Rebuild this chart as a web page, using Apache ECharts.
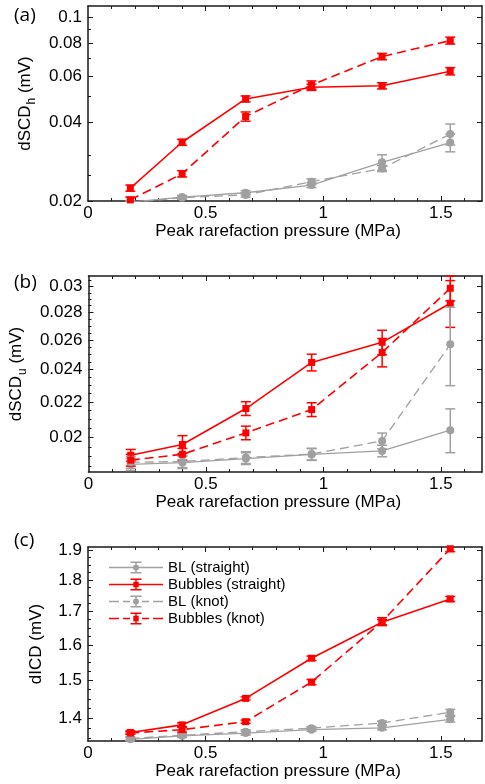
<!DOCTYPE html>
<html><head><meta charset="utf-8">
<script src="https://cdn.jsdelivr.net/npm/echarts@6/dist/echarts.min.js"></script>
<style>html,body{margin:0;padding:0;background:#fff}#c{width:485px;height:784px}</style>
</head><body><div id="c"></div>
<script>
// ---------- data ----------
const pressure = [0.18, 0.40, 0.67, 0.95, 1.25, 1.54];
const seriesNames = ['BL (straight)', 'Bubbles (straight)', 'BL (knot)', 'Bubbles (knot)'];

// panel (a) dSCD_h
const a_blStraight     = [0.0198, 0.0207, 0.0215, 0.0230, 0.0281, 0.0334];
const a_blStraightErr  = [0.0003, 0.0003, 0.0004, 0.0005, 0.0019, 0.0026];
const a_bubStraight    = [0.0224, 0.0335, 0.0490, 0.0543, 0.0550, 0.0625];
const a_bubStraightErr = [0.0006, 0.0009, 0.0013, 0.0015, 0.0015, 0.0020];
const a_blKnot         = [0.0197, 0.0206, 0.0211, 0.0237, 0.0266, 0.0360];
const a_blKnotErr      = [0.0003, 0.0003, 0.0004, 0.0006, 0.0007, 0.0033];
const a_bubKnot        = [0.0202, 0.0254, 0.0420, 0.0554, 0.0711, 0.0818];
const a_bubKnotErr     = [0.0005, 0.0007, 0.0017, 0.0020, 0.0020, 0.0025];

// panel (b) dSCD_u
const b_blStraight     = [0.01861, 0.0187, 0.0189, 0.01911, 0.01929, 0.0204];
const b_blStraightErr  = [0.0003, 0.0003, 0.0003, 0.0003, 0.0003, 0.0012];
const b_bubStraight    = [0.01907, 0.01963, 0.02162, 0.02447, 0.02583, 0.02869];
const b_bubStraightErr = [0.0003, 0.00047, 0.0004, 0.00055, 0.00085, 0.0018];
const b_blKnot         = [0.01871, 0.01875, 0.01895, 0.01913, 0.01982, 0.02569];
const b_blKnotErr      = [0.0003, 0.0003, 0.0003, 0.0003, 0.00042, 0.0027];
const b_bubKnot        = [0.01882, 0.01912, 0.02025, 0.02156, 0.02514, 0.02987];
const b_bubKnotErr     = [0.0003, 0.0003, 0.00037, 0.0004, 0.00096, 0.001];

// panel (c) dICD
const c_blStraight     = [1.348, 1.3567, 1.3635, 1.372, 1.3765, 1.398];
const c_blStraightErr  = [0.004, 0.004, 0.005, 0.004, 0.005, 0.007];
const c_bubStraight    = [1.365, 1.384, 1.452, 1.5618, 1.667, 1.739];
const c_bubStraightErr = [0.004, 0.005, 0.004, 0.006, 0.008, 0.008];
const c_blKnot         = [1.3504, 1.358, 1.3668, 1.3757, 1.3886, 1.4159];
const c_blKnotErr      = [0.004, 0.004, 0.005, 0.004, 0.005, 0.0075];
const c_bubKnot        = [1.3635, 1.372, 1.392, 1.4955, 1.669, 1.905];
const c_bubKnotErr     = [0.003, 0.006, 0.004, 0.007, 0.012, 0.010];

// tick labels / tick values
const xTickLabels = [0, 0.5, 1, 1.5];
const xMajorTicks = [0.5, 1, 1.5];
const xMinorTicks = [0.1, 0.2, 0.3, 0.4, 0.6, 0.7, 0.8, 0.9, 1.1, 1.2, 1.3, 1.4, 1.6];
const aTickLabels = [0.02, 0.04, 0.06, 0.08, 0.1];
const aMinorTicks = [0.025, 0.03, 0.05, 0.07, 0.09];
const bTickLabels = [0.02, 0.022, 0.024, 0.026, 0.028, 0.03];
const bMinorTicks = [0.0185, 0.019, 0.0195, 0.0205, 0.021, 0.0215, 0.0225, 0.023, 0.0235,
                     0.0245, 0.025, 0.0255, 0.0265, 0.027, 0.0275, 0.0285, 0.029, 0.0295, 0.0305];
const cTickLabels = [1.4, 1.5, 1.6, 1.7, 1.8, 1.9];
const cMinorTicks = [1.35, 1.375, 1.425, 1.45, 1.475, 1.525, 1.55, 1.575, 1.625, 1.65, 1.675,
                     1.725, 1.75, 1.775, 1.825, 1.85, 1.875];

// ---------- styling ----------
const FONT = '"Liberation Sans", Arial, sans-serif';
const RED = '#ff0000', GRAY = '#a0a0a0';
const AXC = '#1a1a1a';
const X_MAX = 1.675;
const styles = [
  {color: GRAY, dash: 'solid', symbol: 'circle', size: 8, width: 1.3},
  {color: RED,  dash: 'solid', symbol: 'rect',   size: 7, width: 1.6},
  {color: GRAY, dash: [9, 5],  symbol: 'circle', size: 8, width: 1.3},
  {color: RED,  dash: [9, 5],  symbol: 'rect',   size: 7, width: 1.6}
];

const panels = [
  {top: 6, height: 195, yMin: 0.02, yMax: 0.1108, labels: aTickLabels, minor: aMinorTicks,
   yName: '{m|dSCD}{s|h}{m| (mV)}', tag: '(a)', tagTop: 6,
   vals: [a_blStraight, a_bubStraight, a_blKnot, a_bubKnot],
   errs: [a_blStraightErr, a_bubStraightErr, a_blKnotErr, a_bubKnotErr]},
  {top: 276, height: 196, yMin: 0.01823, yMax: 0.03087, labels: bTickLabels, minor: bMinorTicks,
   yName: '{m|dSCD}{s|u}{m| (mV)}', tag: '(b)', tagTop: 273,
   vals: [b_blStraight, b_bubStraight, b_blKnot, b_bubKnot],
   errs: [b_blStraightErr, b_bubStraightErr, b_blKnotErr, b_bubKnotErr]},
  {top: 547, height: 194, yMin: 1.344, yMax: 1.911, labels: cTickLabels, minor: cMinorTicks,
   yName: '{m|dICD (mV)}', tag: '(c)', tagTop: 531,
   vals: [c_blStraight, c_bubStraight, c_blKnot, c_bubKnot],
   errs: [c_blStraightErr, c_bubStraightErr, c_blKnotErr, c_bubKnotErr]}
];

function fmt(v) { return String(+(+v).toPrecision(6)); }

function errRender(color) {
  return function (params, api) {
    const x = api.value(0), y = api.value(1), e = api.value(2);
    const cs = params.coordSys;
    const top = api.coord([x, y + e]);
    const bot = api.coord([x, y - e]);
    const cx = top[0], hw = 5;
    const st = {stroke: color, lineWidth: 1.5};
    const y0 = Math.max(top[1], cs.y), y1 = Math.min(bot[1], cs.y + cs.height);
    const ch = [];
    if (y1 > y0) ch.push({type: 'line', shape: {x1: cx, y1: y0, x2: cx, y2: y1}, style: st});
    if (top[1] >= cs.y - 0.5) ch.push({type: 'line', shape: {x1: cx - hw, y1: top[1], x2: cx + hw, y2: top[1]}, style: st});
    if (bot[1] <= cs.y + cs.height + 0.5) ch.push({type: 'line', shape: {x1: cx - hw, y1: bot[1], x2: cx + hw, y2: bot[1]}, style: st});
    return {type: 'group', children: ch};
  };
}

const grids = [], xAxes = [], yAxes = [], series = [], titles = [];
const lineAx = {show: true, onZero: false, lineStyle: {color: AXC, width: 1.5}};
const noLine = {show: false};

panels.forEach((p, i) => {
  grids.push({left: 88, right: 3, top: p.top, height: p.height});
  const xi = xAxes.length;
  const xBase = {type: 'value', gridIndex: i, min: 0, max: X_MAX, splitLine: {show: false}};
  xAxes.push(Object.assign({}, xBase, {
    position: 'bottom', axisLine: lineAx,
    axisTick: {show: true, inside: true, length: 5, customValues: xMajorTicks, lineStyle: {color: AXC, width: 1}},
    axisLabel: {show: true, customValues: xTickLabels, margin: 4, color: '#000', fontSize: 17, fontFamily: FONT, formatter: fmt},
    name: 'Peak rarefaction pressure (MPa)', nameLocation: 'middle', nameGap: 21,
    nameTextStyle: {color: '#000', fontSize: 17, fontFamily: FONT, padding: [0, 14, 0, 0]}
  }));
  xAxes.push(Object.assign({}, xBase, {
    position: 'bottom', axisLine: noLine, axisLabel: {show: false},
    axisTick: {show: true, inside: true, length: 3, customValues: xMinorTicks, lineStyle: {color: AXC, width: 1}}
  }));
  xAxes.push(Object.assign({}, xBase, {
    position: 'top', axisLine: lineAx, axisLabel: {show: false},
    axisTick: {show: true, inside: true, length: 5, customValues: xMajorTicks, lineStyle: {color: AXC, width: 1}}
  }));
  xAxes.push(Object.assign({}, xBase, {
    position: 'top', axisLine: noLine, axisLabel: {show: false},
    axisTick: {show: true, inside: true, length: 3, customValues: xMinorTicks, lineStyle: {color: AXC, width: 1}}
  }));

  const yi = yAxes.length;
  const yBase = {type: 'log', logBase: 10, gridIndex: i, min: p.yMin, max: p.yMax, splitLine: {show: false}};
  yAxes.push(Object.assign({}, yBase, {
    position: 'left', axisLine: lineAx,
    axisTick: {show: true, inside: true, length: 5, customValues: p.labels, lineStyle: {color: AXC, width: 1}},
    axisLabel: {show: true, customValues: p.labels, margin: 6, color: '#000', fontSize: 17, fontFamily: FONT, formatter: fmt},
    name: p.yName, nameLocation: 'middle', nameGap: 43,
    nameTextStyle: {color: '#000', rich: {
      m: {fontSize: 17, fontFamily: FONT, color: '#000'},
      s: {fontSize: 12, fontFamily: FONT, color: '#000', padding: [13, 0, 0, 1]}
    }}
  }));
  yAxes.push(Object.assign({}, yBase, {
    position: 'left', axisLine: noLine, axisLabel: {show: false},
    axisTick: {show: true, inside: true, length: 3, customValues: p.minor, lineStyle: {color: AXC, width: 1}}
  }));
  yAxes.push(Object.assign({}, yBase, {
    position: 'right', axisLine: lineAx, axisLabel: {show: false},
    axisTick: {show: true, inside: true, length: 5, customValues: p.labels, lineStyle: {color: AXC, width: 1}}
  }));

  titles.push({text: p.tag, left: 14, top: p.tagTop, padding: 0,
    textStyle: {fontSize: 19, fontWeight: 'normal', fontFamily: '"Open Sans", sans-serif', color: '#000'}});

  p.vals.forEach((vals, k) => {
    const s = styles[k];
    const nm = i === 2 ? seriesNames[k] : seriesNames[k] + ' ' + p.tag;
    series.push({
      type: 'custom', name: nm, xAxisIndex: xi, yAxisIndex: yi, z: k < 2 ? 2 : 3,
      itemStyle: {color: s.color}, renderItem: errRender(s.color), encode: {x: 0, y: 1},
      data: pressure.map((x, j) => [x, vals[j], p.errs[k][j]])
    });
    series.push({
      type: 'line', name: nm, xAxisIndex: xi, yAxisIndex: yi, z: k < 2 ? 2 : 3,
      data: pressure.map((x, j) => [x, vals[j]]),
      symbol: s.symbol, symbolSize: s.size, showSymbol: true,
      itemStyle: {color: s.color, borderWidth: 0},
      lineStyle: {color: s.color, width: s.width, type: s.dash}
    });
  });
});

// legend icons: line + marker + error bar, in a 54 x 16 box
const barPath = 'M26.25 2 H27.75 V14 H26.25 Z M21.5 2 H32.5 V3.5 H21.5 Z M21.5 12.5 H32.5 V14 H21.5 Z ';
const solidLine = 'M0 7.3 H54 V8.7 H0 Z ';
const dashLine = 'M0 7.3 H10 V8.7 H0 Z M14 7.3 H21 V8.7 H14 Z M33 7.3 H40 V8.7 H33 Z M44 7.3 H54 V8.7 H44 Z ';
const circ = 'M24 8 A3 3 0 1 1 30 8 A3 3 0 1 1 24 8 Z';
const sq = 'M24.3 5.3 H29.7 V10.7 H24.3 Z';
const legendIcons = [
  'path://' + solidLine + barPath + circ,
  'path://' + solidLine + barPath + sq,
  'path://' + dashLine + barPath + circ,
  'path://' + dashLine + barPath + sq
];

const chart = echarts.init(document.getElementById('c'), null, {renderer: 'canvas'});
chart.setOption({
  animation: false,
  backgroundColor: '#fff',
  title: titles,
  grid: grids,
  xAxis: xAxes,
  yAxis: yAxes,
  legend: {
    data: seriesNames.map((n, k) => ({name: n, icon: legendIcons[k]})),
    orient: 'vertical', left: 109, top: 560, itemWidth: 54, itemHeight: 16, itemGap: 2,
    padding: 0, selectedMode: false, itemStyle: {borderWidth: 0},
    textStyle: {fontSize: 15, fontFamily: FONT, color: '#000'}
  },
  series: series
});
</script></body></html>
